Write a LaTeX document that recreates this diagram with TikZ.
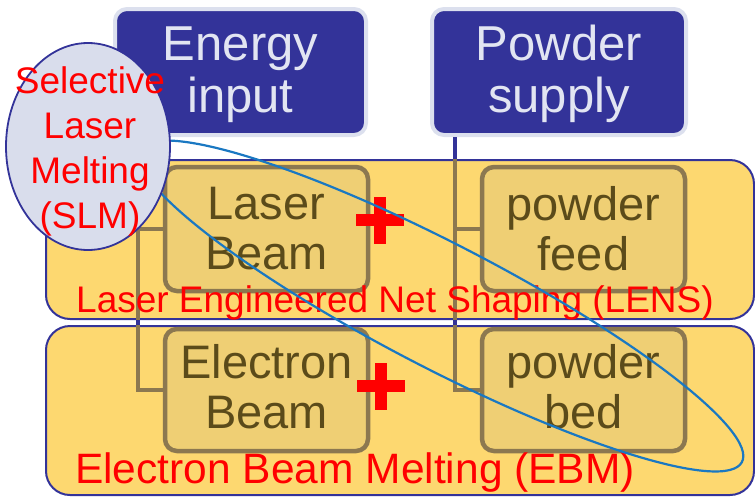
\documentclass[tikz,border=0pt]{standalone}
\usepackage{fontspec}
\setmainfont{Liberation Sans}
\usetikzlibrary{shapes.geometric,calc}
\definecolor{hdrblue}{HTML}{333399}
\definecolor{hdrtext}{HTML}{E2E5F2}
\definecolor{hdrrim}{HTML}{DCE0EE}
\definecolor{panelfill}{HTML}{FDD870}
\definecolor{boxfill}{HTML}{EFCF74}
\definecolor{boxline}{HTML}{8C7850}
\definecolor{boxtext}{HTML}{5B4B1A}
\definecolor{slmfill}{HTML}{D9DDEC}
\definecolor{hlblue}{HTML}{1A78C2}
\begin{document}
\begin{tikzpicture}[x=1pt,y=-1pt,
 panel/.style={draw=hdrblue, line width=2pt, fill=panelfill, rounded corners=24pt, rectangle, minimum width=708pt, inner sep=0pt},
 header/.style={draw=hdrrim, line width=4pt, fill=hdrblue, rounded corners=12pt, text=hdrtext, font=\fontsize{49}{52}\selectfont, align=center, minimum height=126pt, inner sep=0pt},
 itembox/.style={draw=boxline, line width=4.5pt, fill=boxfill, rounded corners=12pt, text=boxtext, font=\fontsize{47}{50}\selectfont, align=center, minimum width=203pt, inner sep=0pt},
 bracket/.style={draw=boxline, line width=4.5pt},
 stem/.style={draw=hdrblue, line width=4.5pt},
 process/.style={text=red, font=\fontsize{37}{40}\selectfont, anchor=base west, inner sep=0pt},
 plusbar/.style={fill=red},
 highlight/.style={draw=hlblue, line width=2.2pt, ellipse, inner sep=0pt},
 slmshape/.style={draw=hdrblue, line width=1.8pt, fill=slmfill, ellipse, inner sep=0pt},
 slmlabel/.style={text=red, font=\fontsize{37}{45}\selectfont, align=center, inner sep=0pt},
]
\useasboundingbox (0,0) rectangle (755,496);

% panels
\node[panel, minimum height=159pt] (lens) at (400,239.5) {};
\node[panel, minimum height=169pt] (ebm) at (400,410.5) {};

% headers
\node[header, minimum width=251pt] (energy) at (240.5,72) {\rule{0pt}{38.3pt}Energy\\input};
\node[header, minimum width=254pt] (powder) at (559,72) {\rule{0pt}{38.3pt}Powder\\supply};

% item boxes
\node[itembox, minimum height=124pt] (laser) at (266.5,229) {Laser\\Beam};
\node[itembox, minimum height=122pt] (electron) at (266.5,390) {Electron\\Beam\rule[-8pt]{0pt}{0pt}};
\node[itembox, minimum height=124pt] (feed) at (583.5,229) {powder\\feed};
\node[itembox, minimum height=122pt] (bed) at (583.5,390) {powder\\bed\rule[-8pt]{0pt}{0pt}};

% brackets
\coordinate (es) at ($(energy.south west)+(25,0)$);
\coordinate (ps) at ($(powder.south west)+(25,0)$);
\draw[stem] (es) -- (es |- lens.north);
\draw[bracket] (es |- lens.north) |- (laser.west);
\draw[bracket] (es |- lens.north) |- (electron.west);
\draw[stem] (es |- lens.south) -- (es |- ebm.north);
\draw[stem] (ps) -- (ps |- lens.north);
\draw[bracket] (ps |- lens.north) |- (feed.west);
\draw[bracket] (ps |- lens.north) |- (bed.west);
\draw[stem] (ps |- lens.south) -- (ps |- ebm.north);

% process labels
\node[process] (lenslabel) at (76,312) {Laser Engineered Net Shaping (LENS)};
\node[process, font=\fontsize{42.5}{44}\selectfont] (ebmlabel) at (75,483) {Electron Beam Melting (EBM)};

% plus signs
\coordinate (plusA) at (380,220);
\coordinate (plusB) at (381,386);
\foreach \p in {plusA,plusB}{
  \fill[plusbar] ($(\p)+(-24,-6)$) rectangle ($(\p)+(24,6)$);
  \fill[plusbar] ($(\p)+(-6,-23.5)$) rectangle ($(\p)+(6,23.5)$);
}

% highlight ellipse
\node[highlight, minimum width=678pt, minimum height=124pt, rotate=-27.4] (hl) at (441,306) {};

% SLM
\node[slmshape, minimum width=164pt, minimum height=207pt] (slm) at (88,146.5) {};
\node[slmlabel] (slmtext) at (90,146.5) {\rule{0pt}{36pt}Selective\\Laser\\Melting\\(SLM)};
\end{tikzpicture}
\end{document}
